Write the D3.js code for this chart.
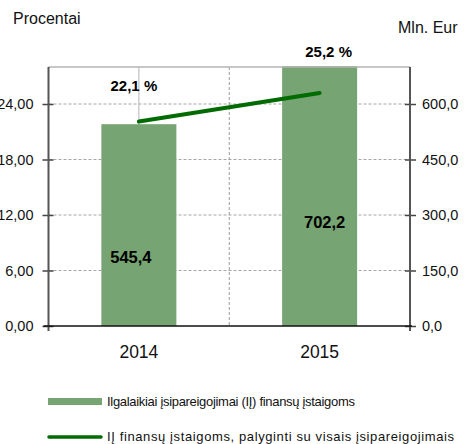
<!DOCTYPE html>
<html>
<head>
<meta charset="utf-8">
<script src="https://cdn.jsdelivr.net/npm/d3@7"></script>
<style>
  body { margin: 0; background: #fff; }
  svg { display: block; font-family: "Liberation Sans", Arial, sans-serif; }
</style>
</head>
<body>
<svg class="chart" width="466" height="444"></svg>
<script>
// data
const years = ["2014", "2015"];
const amounts = [545.4, 702.2];          // Mln. Eur
const shares = [22.1, 25.2];             // Procentai
const amountLabels = ["545,4", "702,2"];
const shareLabels = ["22,1 %", "25,2 %"];
const leftTicks = [0, 6, 12, 18, 24];
const rightTicks = [0, 150, 300, 450, 600];
const legendItems = [
  "Ilgalaikiai įsipareigojimai (IĮ) finansų įstaigoms",
  "IĮ finansų įstaigoms, palyginti su visais įsipareigojimais"
];

const barColor = "#76a472";
const lineColor = "#006b00";
const plotL = 48.5, plotR = 410, plotT = 67, plotB = 326;

const $svg = d3.select(".chart");

const x = d3.scaleBand().domain(years).range([plotL, plotR]);
const yL = d3.scaleLinear().domain([0, 28]).range([plotB, plotT]);
const yR = d3.scaleLinear().domain([0, 700]).range([plotB, plotT]);
const barW = x.bandwidth() * 0.415;
const cx = d => x(d) + x.bandwidth() / 2;

// horizontal dotted grid
$svg.append("g")
  .selectAll("line")
  .data(leftTicks.slice(1))
  .join("line")
  .attr("x1", plotL).attr("x2", plotR)
  .attr("y1", d => yL(d)).attr("y2", d => yL(d))
  .attr("stroke", "#a6a6a6")
  .attr("stroke-dasharray", "3,2");

// vertical lines
$svg.append("g")
  .selectAll("line")
  .data(years)
  .join("line")
  .attr("x1", d => cx(d)).attr("x2", d => cx(d))
  .attr("y1", plotT).attr("y2", plotB)
  .attr("stroke", "#b4b4b4");
$svg.append("line")
  .attr("x1", x(years[1])).attr("x2", x(years[1]))
  .attr("y1", plotT).attr("y2", plotB)
  .attr("stroke", "#999")
  .attr("stroke-dasharray", "3,2");

// bars
$svg.append("g")
  .selectAll("rect")
  .data(amounts)
  .join("rect")
  .attr("x", (d, i) => cx(years[i]) - barW / 2)
  .attr("width", barW)
  .attr("y", d => yR(d))
  .attr("height", d => plotB - yR(d))
  .attr("fill", barColor);

// top border
$svg.append("line")
  .attr("x1", plotL).attr("x2", plotR)
  .attr("y1", plotT).attr("y2", plotT)
  .attr("stroke", "#b4b4b4").attr("stroke-width", 1.5);

// line
const line = d3.line()
  .x((d, i) => cx(years[i]))
  .y(d => yL(d));
$svg.append("path")
  .datum(shares)
  .attr("d", line)
  .attr("fill", "none")
  .attr("stroke", lineColor)
  .attr("stroke-width", 4)
  .attr("stroke-linecap", "round");

// labels
const shareOffset = [[-5, -31], [9, -36]];
$svg.append("g")
  .selectAll("text")
  .data(shares)
  .join("text")
  .attr("x", (d, i) => cx(years[i]) + shareOffset[i][0])
  .attr("y", (d, i) => yL(d) + shareOffset[i][1])
  .attr("text-anchor", "middle")
  .attr("font-size", 15)
  .attr("font-weight", "bold")
  .text((d, i) => shareLabels[i]);

const amountOffset = [[-8, 12], [5, 0]];
$svg.append("g")
  .selectAll("text")
  .data(amounts)
  .join("text")
  .attr("x", (d, i) => cx(years[i]) + amountOffset[i][0])
  .attr("y", (d, i) => yR(d * 0.4) + 6 + amountOffset[i][1])
  .attr("text-anchor", "middle")
  .attr("font-size", 16.5)
  .attr("font-weight", "bold")
  .text((d, i) => amountLabels[i]);

// axes
const fmt2 = d => d.toFixed(2).replace(".", ",");
const fmt1 = d => d.toFixed(1).replace(".", ",");

const $left = $svg.append("g")
  .attr("transform", `translate(${plotL},0)`)
  .call(d3.axisLeft(yL).tickValues(leftTicks).tickFormat(fmt2).tickSizeOuter(0).tickPadding(9));
const $right = $svg.append("g")
  .attr("transform", `translate(${plotR},0)`)
  .call(d3.axisRight(yR).tickValues(rightTicks).tickFormat(fmt1).tickSizeOuter(0).tickPadding(6));

[$left, $right].forEach(($a, k) => {
  $a.select(".domain").remove();
  $a.selectAll(".tick line")
    .attr("x1", k ? -5 : 5)
    .attr("stroke", "#444")
    .attr("stroke-width", 1.5);
  $a.selectAll(".tick text")
    .attr("font-family", "Liberation Sans, Arial, sans-serif")
    .attr("font-size", 14.5)
    .attr("fill", "#111");
  $a.append("line")
    .attr("y1", plotT).attr("y2", plotB + 5)
    .attr("stroke", "#555")
    .attr("stroke-width", 2);
});

// baseline
$svg.append("line")
  .attr("x1", plotL - 5).attr("x2", plotR + 2)
  .attr("y1", plotB).attr("y2", plotB)
  .attr("stroke", "#111").attr("stroke-width", 1.5);

// x labels
$svg.append("g")
  .selectAll("text")
  .data(years)
  .join("text")
  .attr("x", d => cx(d))
  .attr("y", 358)
  .attr("text-anchor", "middle")
  .attr("font-size", 17.5)
  .attr("fill", "#111")
  .text(d => d);

// axis titles
$svg.append("text").attr("x", 13).attr("y", 24).attr("font-size", 16).attr("fill", "#111").text("Procentai");
$svg.append("text").attr("x", 398).attr("y", 33).attr("font-size", 16).attr("fill", "#111").text("Mln. Eur");

// legend
const legendWidths = [248, 347];
const $legend = $svg.append("g").attr("font-size", 13).attr("fill", "#111");
$legend.append("rect")
  .attr("x", 48).attr("y", 398).attr("width", 54).attr("height", 7)
  .attr("fill", barColor);
$legend.append("line")
  .attr("x1", 49).attr("x2", 101).attr("y1", 437).attr("y2", 437)
  .attr("stroke", lineColor).attr("stroke-width", 3.5).attr("stroke-linecap", "round");
$legend.selectAll("text")
  .data(legendItems)
  .join("text")
  .attr("x", 107)
  .attr("y", (d, i) => 406 + i * 35)
  .attr("textLength", (d, i) => legendWidths[i])
  .attr("lengthAdjust", "spacing")
  .text(d => d);
</script>
</body>
</html>
